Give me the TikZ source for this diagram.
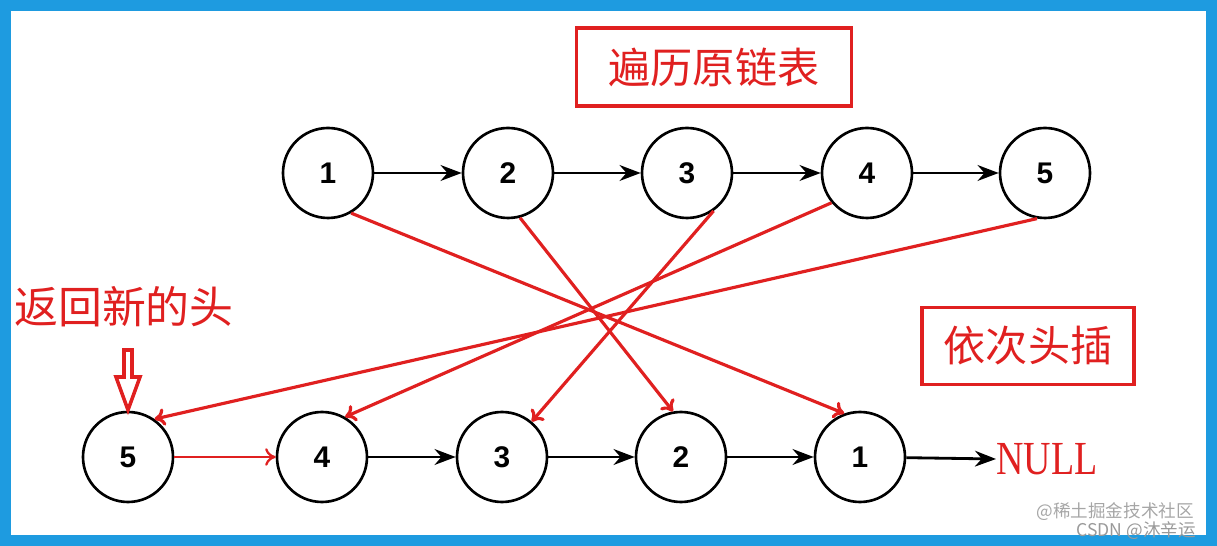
\documentclass[tikz,border=0pt]{standalone}
\usepackage{fontspec}
\setmainfont{Liberation Serif}
\newfontfamily\cjk{Noto Sans CJK SC}
\newfontfamily\numf{Liberation Sans}
\usetikzlibrary{arrows.meta}
\definecolor{bord}{HTML}{1E9BE0}
\definecolor{rd}{HTML}{E02020}
\begin{document}
\begin{tikzpicture}[x=0.02cm,y=-0.02cm,
 nd/.style={circle,draw,line width=1.5pt,minimum size=90*0.02cm,inner sep=0,font=\numf\bfseries\fontsize{17}{17}\selectfont},
 blk/.style={line width=1.6pt,-{Stealth[length=12pt,width=9pt]}},
 red/.style={rd,line width=1.8pt,-{To[length=6pt,width=10pt]}},
 lbl/.style={draw=rd,line width=2pt,text=rd,font=\cjk\fontsize{24}{24}\selectfont,inner sep=0}]
\useasboundingbox (0,0) rectangle (1217,546);
\draw[bord,line width=8pt] (4,4) rectangle (1213,542);
\node[lbl,minimum width=275*0.02cm,minimum height=78*0.02cm] (title) at (714,67) {遍历原链表};
\node[lbl,minimum width=212*0.02cm,minimum height=77*0.02cm] (ins) at (1028,346) {依次头插};
\node[text=rd,font=\cjk\fontsize{25}{25}\selectfont] (ret) at (124,307) {返回新的头};
\foreach \i/\x in {1/328,2/508,3/687,4/867,5/1045}{\node[nd] (t\i) at (\x,173) {\i};}
\foreach \i/\x in {5/128,4/322,3/502,2/681,1/860}{\node[nd] (b\i) at (\x,457) {\i};}
\node[text=rd,font=\fontsize{27}{27}\selectfont,anchor=west,inner sep=0,xscale=0.8] (null) at (996,459) {NULL};
\draw[blk] (t1)--(t2); \draw[blk] (t2)--(t3); \draw[blk] (t3)--(t4); \draw[blk] (t4)--(t5);
\draw[blk] (b4)--(b3); \draw[blk] (b3)--(b2); \draw[blk] (b2)--(b1); \draw[blk] (b1)--(null.west);
\draw[red,line width=1.3pt] (b5.east)--(b4.west);
\draw[red] (t1.-60)--(b1.110);
\draw[red] (t2.-75)--(b2.100);
\draw[red] (t3.-55)--(b3.50);
\draw[red] (t4.-140)--(b4.60);
\draw[red] (t5.-100)--(b5.55);
\coordinate (ah) at (128,410);
\draw[rd,line width=2pt,fill=white,line join=miter] (124,350)--(132,350)--(132,377)--(140,377)--(ah)--(116,377)--(124,377)--cycle;
\node[gray!70,font=\cjk\fontsize{10}{10}\selectfont,anchor=east] (wm) at (1200,512) {@稀土掘金技术社区};
\node[gray!80,font=\cjk\fontsize{10}{10}\selectfont,anchor=east] (wm2) at (1202,531) {CSDN @沐辛运};
\end{tikzpicture}
\end{document}
